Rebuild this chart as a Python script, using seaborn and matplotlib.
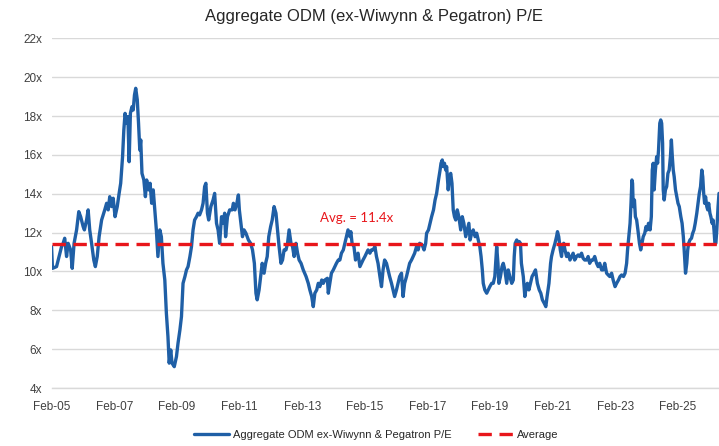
import numpy as np
import pandas as pd
import matplotlib
matplotlib.use("Agg")
import matplotlib.pyplot as plt
import matplotlib.dates as mdates
import matplotlib.ticker as mticker
import seaborn as sns

TITLE = "Aggregate ODM (ex-Wiwynn & Pegatron) P/E"
SERIES_LABEL = "Aggregate ODM ex-Wiwynn & Pegatron P/E"
AVG_LABEL = "Average"
AVG_TEXT = "Avg. = 11.4x"
AVG_VALUE = 11.4

# decimal year of each reading
years = [
    2005.08, 2005.11, 2005.24, 2005.32, 2005.40, 2005.45, 2005.50, 2005.56, 2005.61, 2005.69,
    2005.74, 2005.80, 2005.88, 2005.95, 2006.01, 2006.09, 2006.13, 2006.20, 2006.25, 2006.30,
    2006.36, 2006.43, 2006.48, 2006.54, 2006.60, 2006.68, 2006.78, 2006.84, 2006.89, 2006.94,
    2007.00, 2007.05, 2007.11, 2007.18, 2007.24, 2007.29, 2007.35, 2007.39, 2007.43, 2007.48,
    2007.52, 2007.56, 2007.60, 2007.65, 2007.69, 2007.73, 2007.77, 2007.82, 2007.86,
    2007.90, 2007.93, 2007.97, 2008.03, 2008.08, 2008.12, 2008.18, 2008.23, 2008.28, 2008.33,
    2008.38, 2008.43, 2008.48, 2008.54, 2008.59, 2008.64, 2008.70, 2008.75, 2008.80, 2008.84,
    2008.89, 2008.93, 2009.00, 2009.07, 2009.12, 2009.18, 2009.23, 2009.28, 2009.34, 2009.39,
    2009.44, 2009.50, 2009.55, 2009.60, 2009.65, 2009.71, 2009.76, 2009.81, 2009.87, 2009.92,
    2009.97, 2010.01, 2010.06, 2010.10, 2010.17, 2010.24, 2010.29, 2010.35, 2010.40, 2010.45,
    2010.51, 2010.56, 2010.61, 2010.64, 2010.70, 2010.77, 2010.85,
    2010.89, 2010.94, 2011.00, 2011.05, 2011.08, 2011.13, 2011.18, 2011.23, 2011.29, 2011.37,
    2011.44, 2011.50, 2011.56, 2011.61, 2011.65, 2011.71, 2011.76, 2011.81, 2011.87, 2011.92,
    2011.97, 2012.02, 2012.08, 2012.13, 2012.19, 2012.25, 2012.30, 2012.35, 2012.41, 2012.46,
    2012.51, 2012.57, 2012.62, 2012.67, 2012.73, 2012.78, 2012.83, 2012.89, 2012.94, 2012.99,
    2013.05, 2013.12, 2013.21, 2013.28, 2013.33, 2013.39, 2013.44, 2013.49, 2013.55, 2013.60,
    2013.65, 2013.71, 2013.76, 2013.81, 2013.89,
    2013.92, 2013.97, 2014.02, 2014.08, 2014.13, 2014.18, 2014.24, 2014.29, 2014.34, 2014.40,
    2014.45, 2014.50, 2014.55, 2014.61, 2014.64, 2014.68, 2014.74, 2014.79, 2014.82, 2014.87,
    2014.93, 2014.98, 2015.03, 2015.09, 2015.14, 2015.19, 2015.25, 2015.30, 2015.35, 2015.41,
    2015.46, 2015.51, 2015.57, 2015.62, 2015.67, 2015.72, 2015.78, 2015.83, 2015.88, 2015.94,
    2015.99, 2016.04, 2016.10, 2016.15, 2016.20, 2016.26, 2016.31, 2016.36, 2016.42, 2016.47,
    2016.52, 2016.58, 2016.63, 2016.68, 2016.74, 2016.79, 2016.84, 2016.92,
    2016.98, 2017.03, 2017.06, 2017.12, 2017.17, 2017.22, 2017.28, 2017.33, 2017.38, 2017.44,
    2017.49, 2017.52, 2017.56, 2017.59, 2017.63, 2017.67, 2017.70, 2017.75, 2017.79, 2017.83,
    2017.87, 2017.91, 2017.95, 2017.99, 2018.04, 2018.09, 2018.15, 2018.20, 2018.25, 2018.31,
    2018.36, 2018.41, 2018.45, 2018.50, 2018.55, 2018.61, 2018.66, 2018.71, 2018.76, 2018.80,
    2018.84, 2018.87, 2018.92, 2018.98, 2019.03, 2019.08, 2019.14, 2019.19, 2019.24, 2019.30,
    2019.34, 2019.37, 2019.42, 2019.47, 2019.51, 2019.56, 2019.62, 2019.67, 2019.72, 2019.78,
    2019.83, 2019.86, 2019.89, 2019.94, 2019.99,
    2020.02, 2020.06, 2020.09, 2020.15, 2020.20, 2020.23, 2020.28, 2020.33, 2020.38, 2020.43,
    2020.49, 2020.54, 2020.57, 2020.60, 2020.66, 2020.71, 2020.76, 2020.82, 2020.87, 2020.91,
    2020.97, 2021.02, 2021.05, 2021.10, 2021.16, 2021.21, 2021.24, 2021.28, 2021.33, 2021.37,
    2021.40, 2021.44, 2021.48, 2021.53, 2021.58, 2021.64, 2021.69, 2021.74, 2021.79, 2021.85,
    2021.90, 2021.95, 2022.01, 2022.06, 2022.11, 2022.17, 2022.22, 2022.27, 2022.33, 2022.38,
    2022.43, 2022.49, 2022.54, 2022.59, 2022.65, 2022.70, 2022.75, 2022.81, 2022.86, 2022.91,
    2022.97, 2023.02,
    2023.08, 2023.13, 2023.19, 2023.24, 2023.29, 2023.35, 2023.40, 2023.45, 2023.48, 2023.52,
    2023.56, 2023.59, 2023.62, 2023.64, 2023.66, 2023.70, 2023.73, 2023.77, 2023.81, 2023.86,
    2023.90, 2023.94, 2023.98, 2024.03, 2024.07, 2024.11, 2024.15, 2024.20, 2024.24, 2024.27,
    2024.30, 2024.33, 2024.37, 2024.41, 2024.44, 2024.47, 2024.51, 2024.54, 2024.57, 2024.60,
    2024.62, 2024.65, 2024.69, 2024.73, 2024.77, 2024.81, 2024.85, 2024.88, 2024.91, 2024.94,
    2024.97, 2025.01, 2025.05, 2025.09, 2025.13, 2025.18, 2025.22, 2025.26, 2025.30, 2025.33,
    2025.37, 2025.40, 2025.43, 2025.47, 2025.52, 2025.56, 2025.60, 2025.64, 2025.69, 2025.73,
    2025.77, 2025.81, 2025.85, 2025.88, 2025.91, 2025.94, 2025.97, 2026.01, 2026.04, 2026.07,
    2026.11, 2026.14, 2026.18, 2026.21, 2026.24, 2026.27, 2026.30, 2026.33, 2026.37, 2026.40,
]

# P/E multiple at each reading
pe = [
    11.28, 10.16, 10.25, 10.77, 11.28, 11.45, 11.71, 10.77, 11.45, 11.11,
    10.16, 11.45, 12.14, 13.08, 12.82, 12.31, 12.14, 12.65, 13.17, 12.14,
    11.45, 10.59, 10.25, 10.77, 11.79, 12.65, 13.17, 13.51, 13.17, 13.85,
    13.34, 13.77, 12.82, 13.34, 14.02, 14.54, 15.91, 17.28, 18.14, 17.63,
    17.97, 15.65, 18.14, 18.48, 18.31, 19.08, 19.43, 18.83, 17.63,
    16.25, 16.77, 15.05, 14.71, 13.85, 14.71, 14.20, 14.54, 13.51, 14.20,
    13.17, 12.14, 10.77, 12.14, 11.79, 10.42, 9.56, 7.85, 6.65, 5.28,
    5.96, 5.28, 5.10, 5.62, 6.31, 6.99, 7.68, 9.39, 9.74, 10.08,
    10.25, 10.77, 11.28, 12.14, 12.65, 12.82, 13.00, 12.91, 13.17, 13.51,
    14.37, 14.54, 13.00, 12.65, 13.34, 13.68, 14.02, 12.48, 12.14, 11.45,
    12.82, 12.48, 13.00, 11.79, 12.82, 13.17, 13.17,
    13.51, 13.17, 13.51, 13.94, 13.17, 12.48, 11.79, 12.14, 11.97, 11.62,
    11.45, 11.11, 10.42, 8.88, 8.54, 9.05, 9.74, 10.42, 9.91, 10.42,
    10.77, 11.79, 12.31, 12.65, 13.34, 13.00, 12.14, 11.28, 10.42, 10.59,
    11.11, 11.11, 11.45, 12.14, 11.45, 11.28, 10.77, 11.45, 10.94, 10.59,
    10.42, 10.08, 9.74, 9.39, 9.05, 8.71, 8.19, 8.88, 9.05, 9.39,
    9.22, 9.56, 9.39, 9.56, 9.65,
    8.88, 9.39, 9.91, 10.08, 10.25, 10.42, 10.59, 10.59, 10.94, 11.11,
    11.45, 11.79, 12.14, 11.79, 12.05, 11.45, 11.28, 10.59, 10.77, 10.94,
    10.25, 10.42, 10.59, 10.77, 10.94, 11.11, 10.94, 11.11, 11.11, 11.28,
    10.77, 10.42, 9.74, 9.22, 10.08, 10.59, 10.42, 10.08, 9.74, 9.39,
    9.05, 8.71, 9.05, 9.39, 9.74, 9.91, 8.71, 9.39, 9.74, 10.08,
    10.42, 10.59, 10.77, 10.94, 11.28, 11.11, 11.45, 11.37,
    11.11, 11.45, 11.97, 12.14, 12.48, 12.82, 13.17, 13.68, 14.02, 14.71,
    15.22, 15.57, 15.74, 15.40, 15.57, 15.22, 15.40, 14.20, 14.88, 15.05,
    14.54, 13.17, 12.82, 12.65, 13.17, 12.82, 12.14, 12.82, 12.48, 11.79,
    12.14, 12.48, 11.62, 11.97, 12.14, 11.79, 11.97, 11.62, 11.28, 10.77,
    10.08, 9.39, 9.05, 8.88, 9.05, 9.22, 9.39, 9.39, 9.74, 11.28,
    10.42, 9.39, 9.74, 10.25, 10.42, 10.08, 9.39, 10.08, 9.74, 9.39,
    9.56, 10.77, 11.45, 11.62, 11.45,
    11.54, 11.45, 10.42, 9.74, 8.71, 9.05, 9.39, 9.05, 9.39, 9.74,
    9.91, 10.08, 9.74, 9.39, 9.05, 8.88, 8.54, 8.36, 8.19, 8.71,
    9.39, 10.42, 10.77, 11.11, 11.45, 11.79, 12.05, 11.79, 11.11, 10.77,
    11.28, 11.45, 11.11, 10.77, 10.94, 10.59, 10.77, 10.94, 10.59, 10.77,
    10.85, 10.77, 10.94, 10.68, 10.59, 10.59, 10.77, 10.42, 10.59, 10.59,
    10.77, 10.42, 10.25, 10.42, 10.08, 10.08, 10.42, 9.91, 9.82, 9.74,
    9.91, 9.56,
    9.22, 9.39, 9.56, 9.74, 9.82, 9.74, 9.91, 10.42, 11.11, 11.79,
    12.48, 13.51, 14.71, 14.54, 13.34, 13.68, 12.82, 12.65, 12.14, 11.45,
    11.11, 11.45, 11.79, 11.97, 12.31, 12.14, 12.48, 12.14, 12.82, 15.22,
    15.57, 14.20, 15.22, 15.91, 15.57, 16.25, 17.63, 17.80, 17.63, 16.60,
    14.20, 13.68, 14.20, 14.37, 15.05, 15.22, 15.91, 16.77, 15.91, 15.22,
    14.88, 14.20, 13.85, 13.51, 13.34, 12.82, 12.48, 11.79, 10.77, 9.91,
    10.42, 11.11, 11.45, 11.62, 11.71, 11.97, 12.14, 12.48, 13.00, 13.51,
    14.02, 14.37, 15.22, 14.88, 14.02, 13.51, 13.85, 13.34, 13.17, 13.51,
    13.00, 12.82, 12.48, 12.65, 12.14, 11.45, 11.45, 12.14, 13.34, 14.02,
]

Y_TICKS = list(range(4, 23, 2))
X_TICK_YEARS = list(range(2005, 2026, 2))
X_START = 2005.085
X_END = 2026.40

BLUE = "#1f5fa6"
RED = "#e8161b"
GRID = "#d9d9d9"


def to_date(y):
    yr = int(y)
    return pd.Timestamp(year=yr, month=1, day=1) + pd.Timedelta(days=(y - yr) * 365.25)


df = pd.DataFrame({"date": [to_date(y) for y in years], "pe": pe})

sns.set_theme(style="white")
plt.rcParams["font.family"] = ["Liberation Sans", "DejaVu Sans"]

fig = plt.figure(figsize=(7.19, 4.46), dpi=100)
ax = fig.add_axes([0.0719, 0.130, 0.9281, 0.784])

sns.lineplot(data=df, x="date", y="pe", ax=ax, color=BLUE, linewidth=2.4,
             label=SERIES_LABEL, zorder=3)
ax.axhline(AVG_VALUE, color=RED, linewidth=2.4, dashes=(4, 2.3),
           label=AVG_LABEL, zorder=4)
ax.text(to_date(2014.83), 12.75, AVG_TEXT, color=RED, fontsize=9.5,
        family=["Lato", "DejaVu Sans"], ha="center", va="center")

ax.set_ylim(4, 22)
ax.set_yticks(Y_TICKS)
ax.yaxis.set_major_formatter(mticker.FuncFormatter(lambda v, _: f"{v:.0f}x"))
ax.set_xlim(to_date(X_START), to_date(X_END))
ax.set_xticks([pd.Timestamp(year=y, month=2, day=1) for y in X_TICK_YEARS])
ax.xaxis.set_major_formatter(mdates.DateFormatter("%b-%y"))

ax.yaxis.grid(True, color=GRID, linewidth=1)
ax.set_axisbelow(True)
for side in ["top", "right", "left"]:
    ax.spines[side].set_visible(False)
ax.spines["bottom"].set_color(GRID)
ax.spines["bottom"].set_linewidth(1)
ax.tick_params(axis="x", length=4, color=GRID, width=1, labelsize=8.5,
               labelcolor="#404040", pad=5)
ax.tick_params(axis="y", length=0, labelsize=8.5, labelcolor="#404040", pad=7)
ax.set_xlabel("")
ax.set_ylabel("")

handles, labels = ax.get_legend_handles_labels()
ax.get_legend().remove()
fig.legend(handles, labels, loc="center", bbox_to_anchor=(0.523, 0.025), ncol=2,
           frameon=False, fontsize=8, handlelength=3.2, columnspacing=2.4,
           handletextpad=0.3)

fig.text(0.52, 0.963, TITLE, ha="center", va="center", fontsize=12, color="#262626")

fig.savefig("out.png", dpi=100)
